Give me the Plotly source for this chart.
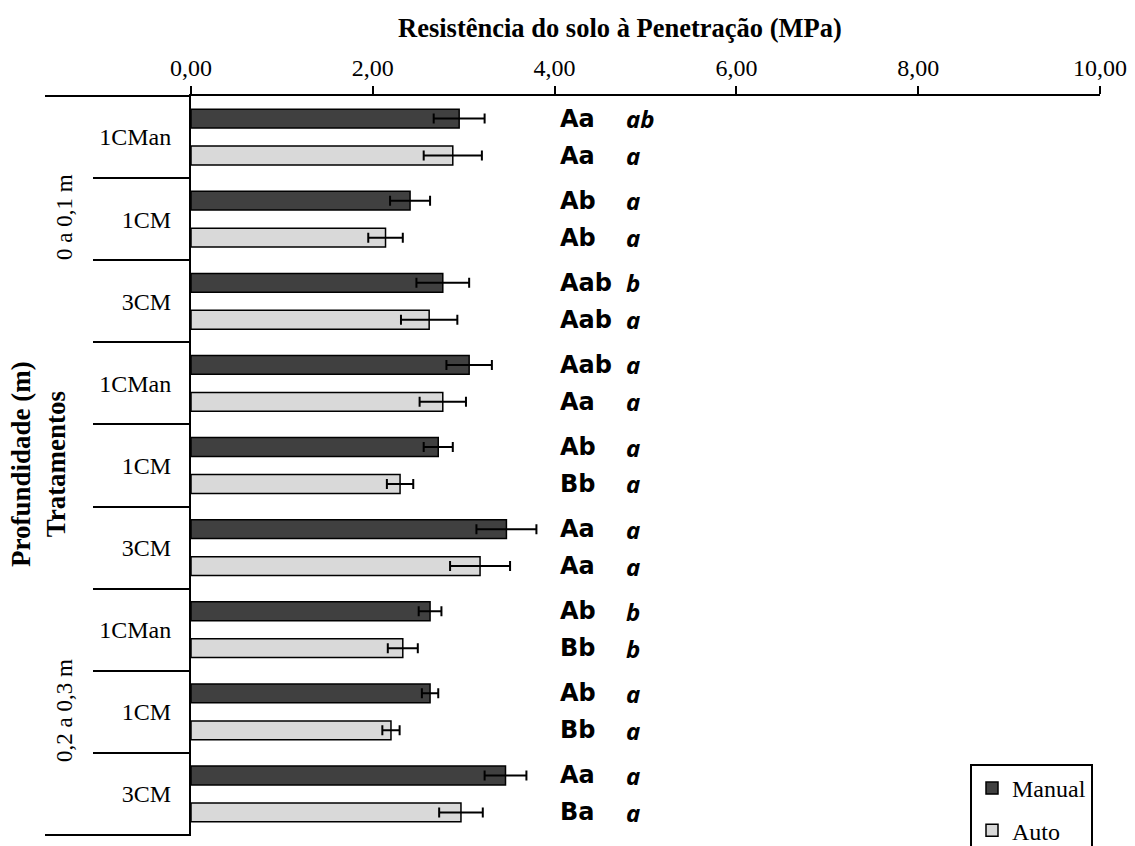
import plotly.graph_objects as go

# Treatments, top to bottom, grouped by depth layer
depths = ["0 a 0,1 m"] * 3 + ["0,1 a 0,2 m"] * 3 + ["0,2 a 0,3 m"] * 3
treatments = ["1CMan", "1CM", "3CM"] * 3
cat_ids = [f"{d} | {t}" for d, t in zip(depths, treatments)]

# Penetration resistance (MPa) and standard errors
manual = [2.95, 2.41, 2.77, 3.06, 2.72, 3.47, 2.63, 2.63, 3.46]
manual_err = [0.28, 0.22, 0.29, 0.25, 0.16, 0.33, 0.125, 0.09, 0.23]
auto = [2.88, 2.14, 2.62, 2.77, 2.30, 3.18, 2.33, 2.20, 2.97]
auto_err = [0.32, 0.19, 0.31, 0.255, 0.145, 0.33, 0.165, 0.095, 0.24]

# Mean-comparison letters (upper-case, italic lower-case)
manual_caps = ["Aa", "Ab", "Aab", "Aab", "Ab", "Aa", "Ab", "Ab", "Aa"]
manual_ital = ["ab", "a", "b", "a", "a", "a", "b", "a", "a"]
auto_caps = ["Aa", "Ab", "Aab", "Aa", "Bb", "Aa", "Bb", "Bb", "Ba"]
auto_ital = ["a", "a", "a", "a", "a", "a", "b", "a", "a"]

x_ticks = [0, 2, 4, 6, 8, 10]
caps_x = 4.04
ital_x = 4.76

SERIF = "Liberation Serif, Times New Roman, serif"
BOLD_SANS = "DejaVu Sans, sans-serif"
ITAL_SANS = "Noto Sans, sans-serif"

W, H = 1135, 846
ML, MR, MT, MB = 191, 35, 96, 11
PW, PH = W - ML - MR, H - MT - MB

BARGAP = 0.10
BARGROUPGAP = 0.49
slot = (1 - BARGAP) / 2
half = slot / 2


def px_x(px):
    return (px - ML) / PW


def px_y(py):
    return (H - MB - py) / PH


fig = go.Figure()
fig.add_trace(go.Bar(
    name="Manual", orientation="h", y=cat_ids, x=manual,
    marker=dict(color="#404040", line=dict(color="black", width=1.5)),
    error_x=dict(type="data", array=manual_err, color="black", thickness=2, width=5),
    legendgroup="m",
))
fig.add_trace(go.Bar(
    name="Auto", orientation="h", y=cat_ids, x=auto,
    marker=dict(color="#d9d9d9", line=dict(color="black", width=1.5)),
    error_x=dict(type="data", array=auto_err, color="black", thickness=2, width=5),
    legendgroup="a",
))

annotations = []
for i in range(len(cat_ids)):
    for caps, ital, dy in ((manual_caps[i], manual_ital[i], -half),
                           (auto_caps[i], auto_ital[i], half)):
        annotations.append(dict(
            x=caps_x, y=i + dy, xref="x", yref="y", text=f"<b>{caps}</b>",
            showarrow=False, xanchor="left", yanchor="middle",
            font=dict(family=BOLD_SANS, size=24, color="black")))
        annotations.append(dict(
            x=ital_x, y=i + dy, xref="x", yref="y", text=f"<b><i>{ital}</i></b>",
            showarrow=False, xanchor="left", yanchor="middle",
            font=dict(family=ITAL_SANS, size=24, color="black")))

# Title above the top axis
annotations.append(dict(
    x=px_x(620), y=px_y(28), xref="paper", yref="paper",
    text="<b>Resistência do solo à Penetração (MPa)</b>", showarrow=False,
    xanchor="center", yanchor="middle",
    font=dict(family=SERIF, size=26.5, color="black")))

# Vertical axis title
annotations.append(dict(
    x=px_x(38), y=px_y(464), xref="paper", yref="paper",
    text="<b>Profundidade (m)<br>Tratamentos</b>", showarrow=False,
    textangle=-90, xanchor="center", yanchor="middle",
    font=dict(family=SERIF, size=27, color="black")))

# Depth layer labels
for label, yc in (("0 a 0,1 m", 217), ("0,2 a 0,3 m", 711)):
    annotations.append(dict(
        x=px_x(64), y=px_y(yc), xref="paper", yref="paper",
        text=label, showarrow=False, textangle=-90,
        xanchor="center", yanchor="middle",
        font=dict(family=SERIF, size=23, color="black")))

shapes = [
    # top axis line extended to the left margin
    dict(type="line", xref="paper", yref="paper", x0=px_x(45), x1=0, y0=1, y1=1,
         line=dict(color="black", width=2)),
    # bottom closing line of the category column
    dict(type="line", xref="paper", yref="paper", x0=px_x(45), x1=0, y0=0, y1=0,
         line=dict(color="black", width=2)),
]

fig.update_layout(
    width=W, height=H,
    margin=dict(l=ML, r=MR, t=MT, b=MB, autoexpand=False),
    paper_bgcolor="white", plot_bgcolor="white",
    barmode="group", bargap=BARGAP, bargroupgap=BARGROUPGAP,
    separators=",.",
    annotations=annotations, shapes=shapes,
    showlegend=True,
    legend=dict(
        x=px_x(970), y=px_y(764), xanchor="left", yanchor="top",
        bordercolor="black", borderwidth=2, bgcolor="white",
        font=dict(family=SERIF, size=24, color="black"),
        traceorder="grouped", tracegroupgap=8,
    ),
)

fig.update_xaxes(
    side="top", range=[0, 10], tickmode="array", tickvals=x_ticks,
    tickformat=".2f", showgrid=False, zeroline=False,
    showline=True, linecolor="black", linewidth=2,
    ticks="outside", ticklen=8, tickwidth=2, tickcolor="black",
    tickfont=dict(family=SERIF, size=24, color="black"),
    automargin=False,
)

fig.update_yaxes(
    type="category", categoryorder="array", categoryarray=cat_ids,
    range=[len(cat_ids) - 0.5, -0.5],
    tickmode="array", tickvals=cat_ids, ticktext=treatments,
    tickson="boundaries", ticks="outside", ticklen=96, tickwidth=2, tickcolor="black",
    ticklabelstandoff=13,
    showgrid=False, zeroline=False,
    showline=True, linecolor="black", linewidth=2,
    tickfont=dict(family=SERIF, size=24, color="black"),
    automargin=False,
)

fig.write_html("out.html")
